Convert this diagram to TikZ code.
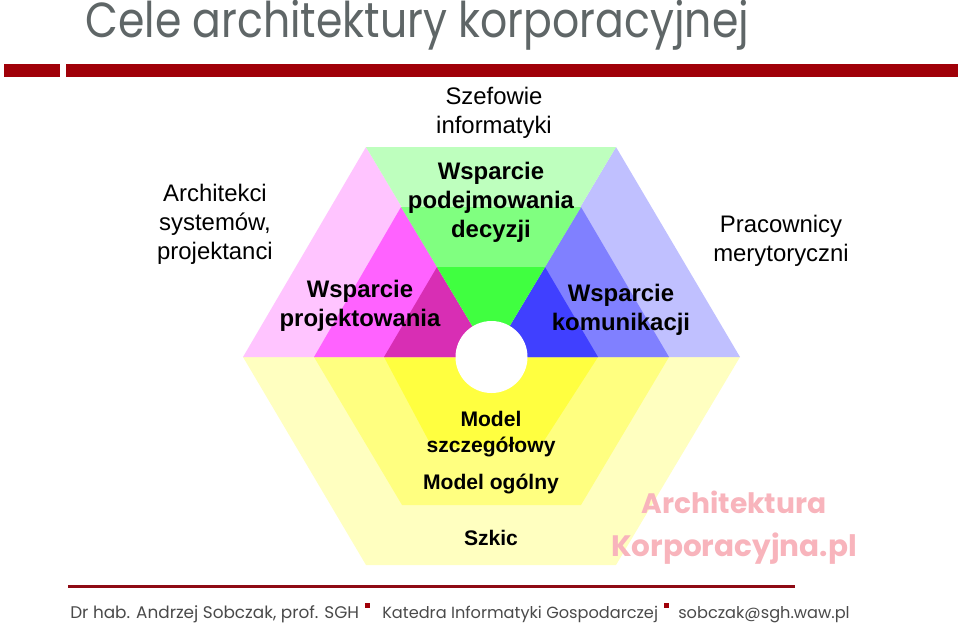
\documentclass[tikz,border=0pt]{standalone}
\usepackage{fontspec}
\usepackage{xcolor}
\usetikzlibrary{positioning}
\setmainfont{Liberation Sans}
\newfontfamily\gothicfont{Poppins}
\newfontfamily\titlefont[FakeStretch=0.865]{Poppins}
\definecolor{BarRed}{HTML}{A00008}
\definecolor{LineRed}{HTML}{8E0A14}
\definecolor{TitleGray}{HTML}{5F6667}
\definecolor{FootGray}{HTML}{4A4A4A}
\definecolor{MarkPink}{HTML}{F8B4BC}
\definecolor{PinkA}{HTML}{FFC4FF}
\definecolor{PinkB}{HTML}{FF62FF}
\definecolor{PinkC}{HTML}{D82EB4}
\definecolor{GreenA}{HTML}{BEFFBE}
\definecolor{GreenB}{HTML}{80FF80}
\definecolor{GreenC}{HTML}{40FF40}
\definecolor{BlueA}{HTML}{C0C0FF}
\definecolor{BlueB}{HTML}{8080FF}
\definecolor{BlueC}{HTML}{4040FF}
\definecolor{YellowA}{HTML}{FFFFC0}
\definecolor{YellowB}{HTML}{FFFF80}
\definecolor{YellowC}{HTML}{FFFF40}

\begin{document}
\begin{tikzpicture}[
        x=0.025cm,
        y=-0.025cm,
        role/.style={
            align=center,
            font=\fontsize{17}{20.6}\selectfont,
            inner sep=0pt
        },
        goal/.style={
            role,
            font=\fontsize{17}{20.6}\bfseries\selectfont
        },
        level/.style={
            role,
            font=\fontsize{15}{18.5}\bfseries\selectfont
        },
        watermark/.style={
            inner sep=0pt,
            text=MarkPink,
            font=\gothicfont\fontsize{21}{24}\bfseries\selectfont
        },
        foot/.style={
            anchor=base west,
            inner sep=0pt,
            text=FootGray,
            font=\gothicfont\fontsize{12}{14}\selectfont
        },
        footsmall/.style={
            foot,
            font=\gothicfont\fontsize{11.5}{14}\selectfont
        }
    ]
        \useasboundingbox (0,0) rectangle (960,625);

        % header
        \node[anchor=base west, inner sep=0pt, text=TitleGray, font=\titlefont\fontsize{35}{40}\selectfont] (title) at (85,37)
            {Cele architektury korporacyjnej};
        \fill[BarRed] (4,64) rectangle (60,77);
        \fill[BarRed] (66,64) rectangle (958,77);

        % bottom trapezoids
        \fill[YellowA] (243,357) -- (740,357) -- (616,565) -- (366,565) -- cycle;
        \fill[YellowB] (314,357) -- (669,357) -- (581,505) -- (402,505) -- cycle;
        \fill[YellowC] (384,357) -- (598,357) -- (540,447) -- (432,447) -- cycle;

        % left triangle
        \fill[PinkA] (243,357) -- (491,357) -- (366,147) -- cycle;
        \fill[PinkB] (314,357) -- (491,357) -- (401,207) -- cycle;
        \fill[PinkC] (384,357) -- (491,357) -- (437,267) -- cycle;

        % right triangle
        \fill[BlueA] (491,357) -- (740,357) -- (616,147) -- cycle;
        \fill[BlueB] (491,357) -- (669,357) -- (581,207) -- cycle;
        \fill[BlueC] (491,357) -- (598,357) -- (545,267) -- cycle;

        % top triangle
        \fill[GreenA] (366,147) -- (616,147) -- (491,357) -- cycle;
        \fill[GreenB] (401,207) -- (581,207) -- (491,357) -- cycle;
        \fill[GreenC] (437,267) -- (545,267) -- (491,357) -- cycle;

        \fill[white] (491.5,357) circle[radius=36];

        % labels
        \node[role] (chiefs) at (494,113) {Szefowie\\informatyki};
        \node[role] (architects) at (215,224) {Architekci\\systemów,\\projektanci};
        \node[role] (workers) at (781,241) {Pracownicy\\merytoryczni};
        \node[goal] (decisions) at (491,202) {Wsparcie\\podejmowania\\decyzji};
        \node[goal] (design) at (360,306) {Wsparcie\\projektowania};
        \node[goal] (comms) at (621,310) {Wsparcie\\komunikacji};
        \node[level] (detailed) at (491,434) {Model\\szczegółowy};
        \node[level] (general) at (491,484) {Model ogólny};
        \node[level] (sketch) at (491,538) {Szkic};

        % watermark
        \node[watermark, font=\gothicfont\fontsize{20}{24}\bfseries\selectfont] (markA) at (734,502) {Architektura};
        \node[watermark] (markB) at (734,549) {Korporacyjna.pl};

        % footer
        \fill[LineRed] (68,584.5) rectangle (795,588);
        \node[foot] (author) at (70,618) {Dr hab. Andrzej Sobczak, prof. SGH};
        \fill[BarRed] (365,603) rectangle (370,608);
        \node[footsmall] (dept) at (382,618) {Katedra Informatyki Gospodarczej};
        \fill[BarRed] (664,603) rectangle (669,608);
        \node[footsmall] (email) at (678,618) {sobczak@sgh.waw.pl};
    \end{tikzpicture}
\end{document}
